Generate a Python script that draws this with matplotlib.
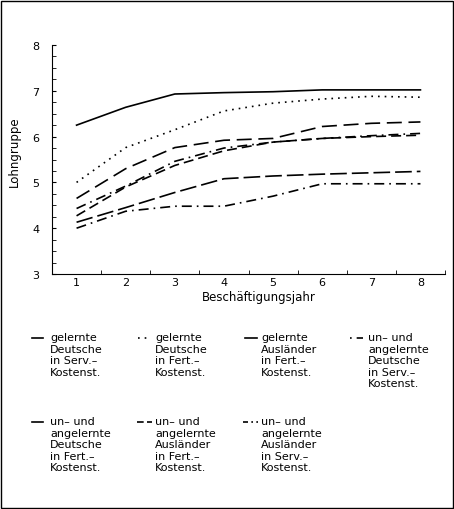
#Lohngruppe nach Beschaeftigungsjahr, 7 Gruppen
import matplotlib
matplotlib.use('Agg')
import matplotlib.pyplot as plt
from matplotlib.lines import Line2D
from matplotlib.patches import Rectangle

jahre = [1, 2, 3, 4, 5, 6, 7, 8]

gel_de_serv = [6.25, 6.64, 6.93, 6.96, 6.98, 7.02, 7.02, 7.02]
gel_de_fert = [5.00, 5.76, 6.15, 6.56, 6.73, 6.82, 6.88, 6.86]
gel_au_fert = [4.65, 5.30, 5.76, 5.92, 5.96, 6.22, 6.29, 6.32]
un_de_serv = [4.43, 4.92, 5.46, 5.75, 5.88, 5.96, 6.02, 6.07]
un_de_fert = [4.27, 4.90, 5.37, 5.69, 5.88, 5.96, 6.00, 6.03]
un_au_fert = [4.13, 4.45, 4.78, 5.08, 5.14, 5.18, 5.21, 5.24]
un_au_serv = [4.00, 4.37, 4.48, 4.48, 4.70, 4.97, 4.97, 4.97]

labels = ["gelernte\nDeutsche\nin Serv.\u2013\nKostenst.",
          "gelernte\nDeutsche\nin Fert.\u2013\nKostenst.",
          "gelernte\nAusl\u00e4nder\nin Fert.\u2013\nKostenst.",
          "un\u2013 und\nangelernte\nDeutsche\nin Serv.\u2013\nKostenst.",
          "un\u2013 und\nangelernte\nDeutsche\nin Fert.\u2013\nKostenst.",
          "un\u2013 und\nangelernte\nAusl\u00e4nder\nin Fert.\u2013\nKostenst.",
          "un\u2013 und\nangelernte\nAusl\u00e4nder\nin Serv.\u2013\nKostenst."]

serien = [gel_de_serv, gel_de_fert, gel_au_fert, un_de_serv, un_de_fert, un_au_fert, un_au_serv]
stile = ['-', (0, (1, 3)), (0, (9, 4)), (0, (6, 3, 1, 3)), (0, (6, 3)), (0, (10, 3)), (0, (6, 3, 1, 3))]
# kurze Symbole in der Legende
hand_stile = ['-', (0, (1, 3)), '-', (9, (6, 3, 1, 3)), '-', (0, (4, 2)), (0, (3, 2, 1, 2))]

W, H = 454, 510
def fx(px): return px / W
def fy(py): return 1 - py / H

fig = plt.figure(figsize=(4.54, 5.10), dpi=100)
ax = fig.add_axes([fx(52), fy(275), fx(445) - fx(52), fy(46) - fy(275)])

for s, ls in zip(serien, stile):
    ax.plot(jahre, s, color='black', lw=1.2, linestyle=ls)

ax.set_xlim(0.5, 8.5)
ax.set_ylim(3, 8)
ax.spines['top'].set_visible(False)
ax.spines['right'].set_visible(False)
ax.set_xticks(jahre)
ax.set_xticks([1.5, 2.5, 3.5, 4.5, 5.5, 6.5, 7.5, 8.5], minor=True)
ax.set_yticks([3, 4, 5, 6, 7, 8])
ax.set_yticks([3 + 0.25 * i for i in range(21)], minor=True)
ax.tick_params(axis='x', which='major', length=0, pad=2.5, labelsize=8)
ax.tick_params(axis='x', which='minor', direction='in', length=3)
ax.tick_params(axis='y', which='both', direction='in', length=3, pad=9, labelsize=8)
ax.set_xlabel('Besch\u00e4ftigungsjahr', fontsize=8.5)
ax.set_ylabel('Lohngruppe', fontsize=8.5)
ax.xaxis.set_label_coords(0.527, -0.07)
ax.yaxis.set_label_coords(-0.08, 0.537)

# Legende von Hand, vier Spalten
text_x = [50, 155, 261, 368, 50, 155, 261]
hand_x = [(32, 43), (138, 148), (245, 257), (350, 363), (32, 43), (137, 152), (243, 258)]
zeile_y = [339, 339, 339, 339, 423, 423, 423]
for i in range(7):
    x0, x1 = hand_x[i]
    fig.add_artist(Line2D([fx(x0), fx(x1)], [fy(zeile_y[i]), fy(zeile_y[i])],
                          color='black', lw=1.2, linestyle=hand_stile[i]))
    fig.text(fx(text_x[i]), fy(zeile_y[i] - 6), labels[i], fontsize=8,
             va='top', ha='left', linespacing=1.2)

fig.add_artist(Rectangle((0.002, 0.002), 0.995, 0.995, transform=fig.transFigure,
                         fill=False, lw=1, edgecolor='black'))

fig.savefig('out.png', dpi=100)
